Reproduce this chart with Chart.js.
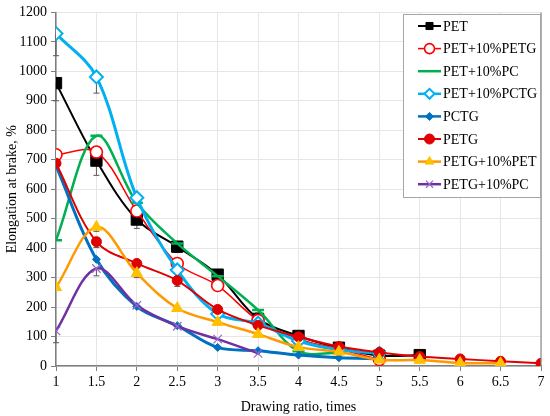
<!DOCTYPE html>
<html><head><meta charset="utf-8">
<script src="https://cdn.jsdelivr.net/npm/chart.js@4.4.1/dist/chart.umd.min.js"></script>
<style>html,body{margin:0;padding:0;background:#fff}#wrap{width:550px;height:416px;position:relative}</style>
</head><body><div id="wrap"><canvas id="c"></canvas></div>
<script>
// Drawing ratio (x) values
const xValues = [1, 1.5, 2, 2.5, 3, 3.5, 4, 4.5, 5, 5.5, 6, 6.5, 7];
const xTicks = [1, 1.5, 2, 2.5, 3, 3.5, 4, 4.5, 5, 5.5, 6, 6.5, 7];
const yTicks = [0, 100, 200, 300, 400, 500, 600, 700, 800, 900, 1000, 1100, 1200];

const seriesNames = ['PET', 'PET+10%PETG', 'PET+10%PC', 'PET+10%PCTG', 'PCTG', 'PETG', 'PETG+10%PET', 'PETG+10%PC'];

// Elongation at break, % (values start at x = 1)
const PET         = [960, 697, 497, 405, 310, 160, 102, 62, 35, 37];
const PET_PETG    = [717, 726, 526, 348, 273, 155, 92, 58, 22];
const PET_PC      = [427, 781, 554, 416, 305, 190, 50, 45];
const PET_PCTG    = [1128, 981, 571, 326, 177, 145, 85, 55, 43];
const PCTG        = [680, 362, 202, 137, 63, 52, 37, 28, 25];
const PETG        = [688, 422, 348, 290, 192, 138, 99, 66, 46, 32, 24, 16, 9];
const PETG_PET    = [267, 472, 315, 196, 149, 108, 64, 48, 21, 20, 10, 9];
const PETG_PC     = [119, 331, 206, 135, 91, 43];

// Minus error bars (same indexing); null = none shown
const PET_err      = [60, 50, 30, 20, null];
const PET_PCTG_err = [75, 55, null, null];
const PETG_err     = [null, 20, 15, 20, null];
const PETG_PET_err = [null, 15, 15, null];
const PETG_PC_err  = [40, 25, null];
const PET_PC_err   = [null, null, null, 15, null, 10];

const seriesValues = [PET, PET_PETG, PET_PC, PET_PCTG, PCTG, PETG, PETG_PET, PETG_PC];
const seriesErrors = [PET_err, null, PET_PC_err, PET_PCTG_err, null, PETG_err, PETG_PET_err, PETG_PC_err];

const styles = [
  {line:'#000000', fill:'#000000', stroke:'#000000', shape:'rect', r:8, bw:1, lw:2},
  {line:'#ff0000', fill:'#ffffff', stroke:'#ff0000', shape:'circle', r:6, bw:1.6, lw:1.5},
  {line:'#00b050', fill:'#00b050', stroke:'#00b050', shape:'line', r:6, bw:2.5, lw:2.5},
  {line:'#00b0f0', fill:'#ffffff', stroke:'#00b0f0', shape:'rectRot', r:6.5, bw:2, lw:3},
  {line:'#0070c0', fill:'#0070c0', stroke:'#0070c0', shape:'rectRot', r:4, bw:1, lw:3},
  {line:'#e00000', fill:'#e00000', stroke:'#e00000', shape:'circle', r:5, bw:1, lw:2},
  {line:'#ff9900', fill:'#ffc000', stroke:'#ffc000', shape:'triangle', r:6.5, bw:1, lw:2.5},
  {line:'#7030a0', fill:'#9966cc', stroke:'#9966cc', shape:'crossRot', r:6, bw:1.2, lw:2.5}
];

const datasets = seriesNames.map((name, i) => ({
  label: name,
  data: seriesValues[i].map((v, j) => ({x: xValues[j], y: v})),
  borderColor: styles[i].line,
  borderWidth: styles[i].lw,
  backgroundColor: styles[i].fill,
  pointStyle: styles[i].shape,
  pointRadius: styles[i].r,
  pointBorderColor: styles[i].stroke,
  pointBackgroundColor: styles[i].fill,
  pointBorderWidth: styles[i].bw,
  tension: 0.35,
  fill: false,
  order: 8 - i,
  errors: seriesErrors[i]
}));

const FONT = 'Liberation Serif';

const errorBars = {
  id: 'errorBars',
  beforeDatasetsDraw(chart) {
    const ctx = chart.ctx, xs = chart.scales.x, ys = chart.scales.y;
    ctx.save();
    ctx.strokeStyle = '#595959';
    ctx.lineWidth = 1;
    chart.data.datasets.forEach(ds => {
      if (!ds.errors) return;
      ds.errors.forEach((e, j) => {
        if (e == null || j >= ds.data.length) return;
        const px = xs.getPixelForValue(ds.data[j].x);
        const p0 = ys.getPixelForValue(ds.data[j].y);
        const p1 = ys.getPixelForValue(ds.data[j].y - e);
        ctx.beginPath();
        ctx.moveTo(px, p0); ctx.lineTo(px, p1);
        ctx.moveTo(px - 3, p1); ctx.lineTo(px + 3, p1);
        ctx.stroke();
      });
    });
    ctx.restore();
  }
};

const frameAndLegend = {
  id: 'frameAndLegend',
  afterDraw(chart) {
    const ctx = chart.ctx, a = chart.chartArea;
    ctx.save();
    ctx.strokeStyle = '#8c8c8c';
    ctx.lineWidth = 1.2;
    ctx.beginPath();
    ctx.moveTo(a.right, a.top); ctx.lineTo(a.right, a.bottom);
    ctx.stroke();
    // legend box
    const bx = 403.5, by = 14.5, bw = 137, bh = 183;
    ctx.fillStyle = '#ffffff';
    ctx.fillRect(bx, by, bw, bh);
    ctx.strokeStyle = '#a6a6a6';
    ctx.lineWidth = 1;
    ctx.strokeRect(bx, by, bw, bh);
    ctx.font = '14px "' + FONT + '"';
    ctx.textBaseline = 'middle';
    ctx.textAlign = 'left';
    chart.data.datasets.forEach((ds, i) => {
      const y = 26 + i * 22.6;
      ctx.strokeStyle = ds.borderColor;
      ctx.lineWidth = Math.min(ds.borderWidth, 2.5);
      ctx.beginPath();
      ctx.moveTo(418, y); ctx.lineTo(441, y);
      ctx.stroke();
      ctx.fillStyle = ds.pointBackgroundColor;
      ctx.strokeStyle = ds.pointBorderColor;
      ctx.lineWidth = ds.pointBorderWidth;
      const r = Math.min(ds.pointRadius, 5);
      Chart.helpers.drawPoint(ctx, {pointStyle: ds.pointStyle, radius: ds.pointStyle === 'line' ? 0 : r, borderWidth: ds.pointBorderWidth, rotation: 0}, 429.5, y);
      ctx.fillStyle = '#000';
      ctx.fillText(ds.label, 443, y + 1);
    });
    ctx.restore();
  }
};

new Chart(document.getElementById('c'), {
  type: 'line',
  data: {datasets},
  options: {
    responsive: true,
    maintainAspectRatio: false,
    animation: false,
    layout: {padding: {top: 10, right: 9, left: 4, bottom: 0}},
    plugins: {legend: {display: false}, tooltip: {enabled: false}},
    scales: {
      x: {
        type: 'linear', min: 1, max: 7,
        afterBuildTicks: s => { s.ticks = xTicks.map(v => ({value: v})); },
        ticks: {color: '#000', font: {family: FONT, size: 14}, padding: 3, maxRotation: 0,
                callback: v => String(v)},
        grid: {color: '#e6e6e6', tickColor: '#7f7f7f', tickLength: 5, lineWidth: 1},
        border: {color: '#7f7f7f', width: 1.5},
        title: {display: true, text: 'Drawing ratio, times', color: '#000', font: {family: FONT, size: 14}, padding: {top: 10, bottom: 0}},
        afterFit: s => { s.height = 50; }
      },
      y: {
        type: 'linear', min: 0, max: 1200,
        afterBuildTicks: s => { s.ticks = yTicks.map(v => ({value: v})); },
        ticks: {color: '#000', font: {family: FONT, size: 14}, padding: 4, callback: v => String(v)},
        grid: {color: '#e6e6e6', tickColor: '#7f7f7f', tickLength: 5, lineWidth: 1},
        border: {color: '#7f7f7f', width: 1.5},
        title: {display: true, text: 'Elongation at brake, %', color: '#000', font: {family: FONT, size: 14}, padding: {top: 0, bottom: 2}},
        afterFit: s => { s.width = 52; }
      }
    }
  },
  plugins: [errorBars, frameAndLegend]
});
</script></body></html>
